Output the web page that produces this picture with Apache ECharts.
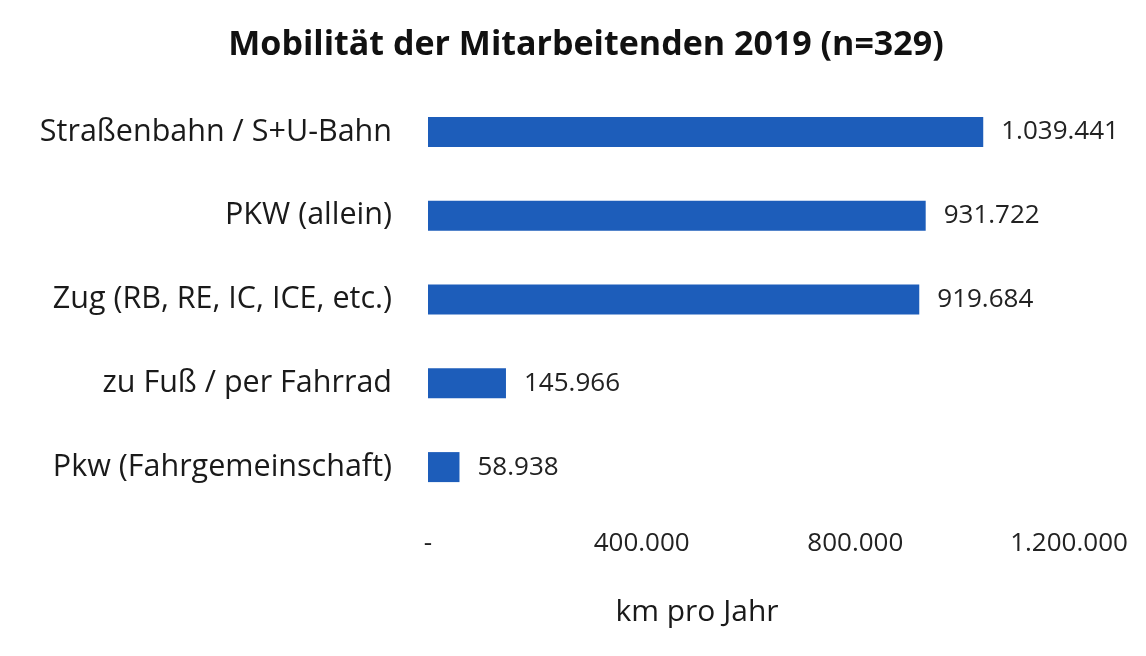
<!DOCTYPE html>
<html>
<head>
<meta charset="utf-8">
<script src="https://cdn.jsdelivr.net/npm/echarts@6/dist/echarts.min.js"></script>
<style>
  html, body { margin: 0; padding: 0; background: #fff; }
  #chart { width: 1146px; height: 656px; }
</style>
</head>
<body>
<div id="chart"></div>
<script>
const categories = [
  'Straßenbahn / S+U-Bahn',
  'PKW (allein)',
  'Zug (RB, RE, IC, ICE, etc.)',
  'zu Fuß / per Fahrrad',
  'Pkw (Fahrgemeinschaft)'
];
const kmPerYear = [1039441, 931722, 919684, 145966, 58938];
const xTicks = [0, 400000, 800000, 1200000];

// 1.039.441 style
function fmtDe(v) {
  return String(Math.round(v)).replace(/\B(?=(\d{3})+(?!\d))/g, '.');
}

const font = '"Open Sans", "Noto Sans", sans-serif';
const chart = echarts.init(document.getElementById('chart'));
chart.setOption({
  backgroundColor: '#fff',
  animation: false,
  title: {
    text: 'Mobilität der Mitarbeitenden 2019 (n=329)',
    left: 581,
    textAlign: 'center',
    top: 23,
    textStyle: {
      fontFamily: font,
      fontSize: 34,
      fontWeight: 'bold',
      color: '#111'
    }
  },
  grid: {
    left: 428,
    right: 77,
    top: 90,
    bottom: 147,
    containLabel: false
  },
  xAxis: {
    type: 'value',
    min: xTicks[0],
    max: xTicks[xTicks.length - 1],
    interval: 400000,
    axisLine: { show: false },
    axisTick: { show: false },
    splitLine: { show: false },
    axisLabel: {
      margin: 22,
      fontFamily: font,
      fontSize: 26,
      color: '#222',
      formatter: v => v === 0 ? '-' : fmtDe(v)
    }
  },
  yAxis: {
    type: 'category',
    data: categories,
    inverse: true,
    axisLine: { show: false },
    axisTick: { show: false },
    axisLabel: {
      margin: 36,
      fontFamily: font,
      fontSize: 30.5,
      color: '#1a1a1a'
    }
  },
  series: [{
    type: 'bar',
    data: kmPerYear,
    barWidth: 30,
    itemStyle: { color: '#1d5dba' },
    label: {
      show: true,
      position: 'right',
      distance: 18,
      fontFamily: font,
      fontSize: 26,
      color: '#222',
      formatter: p => fmtDe(p.value)
    }
  }],
  graphic: [{
    type: 'text',
    x: 697,
    y: 612,
    style: {
      text: 'km pro Jahr',
      fontFamily: font,
      fontSize: 30,
      fill: '#1a1a1a',
      align: 'center',
      verticalAlign: 'middle'
    }
  }]
});
</script>
</body>
</html>
